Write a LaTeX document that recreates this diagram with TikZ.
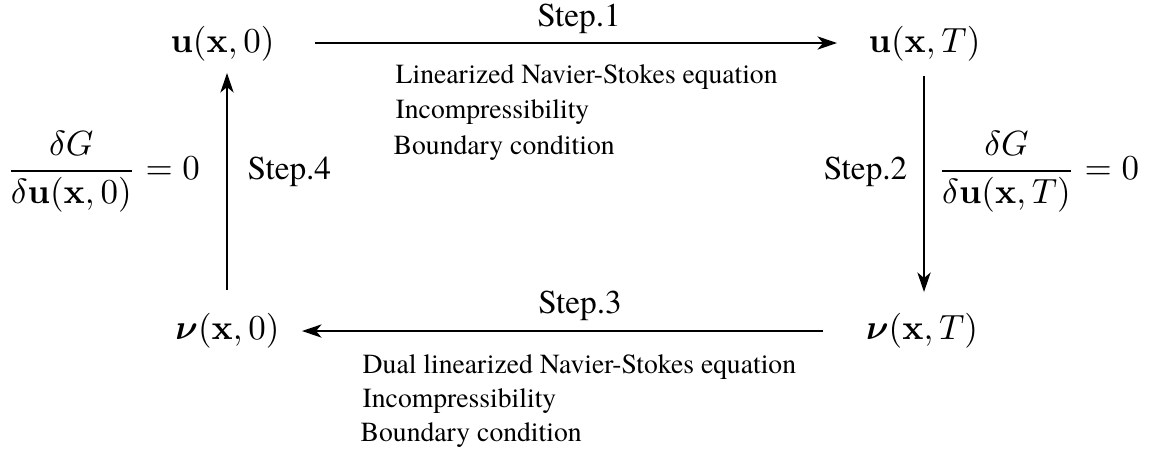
\documentclass[tikz,border=0pt]{standalone}
\usepackage{amsmath}
\usepackage[no-math]{fontspec}
\setmainfont{TeX Gyre Termes}
\usetikzlibrary{arrows.meta}
\tikzset{
  mathnode/.style={inner sep=0pt, outer sep=0pt},
  steplabel/.style={inner sep=0pt, font=\rmfamily\fontsize{9.5}{11}\selectfont},
  smalltext/.style={inner sep=0pt, anchor=base west, font=\rmfamily\fontsize{7.9}{9.5}\selectfont},
  flow/.style={line width=0.45pt, -{Stealth[length=5.6pt,width=3.8pt,inset=1.6pt]}}
}
\begin{document}
\begin{tikzpicture}[x=0.2857pt,y=-0.2857pt]
\useasboundingbox (0,0) rectangle (1163,454);
% main nodes
\node[mathnode] (u0) at (222.5,43.5) {$\mathbf{u}(\mathbf{x},0)$};
\node[mathnode] (uT) at (924.5,43.5) {$\mathbf{u}(\mathbf{x},T)$};
\node[mathnode] (n0) at (227.5,331) {$\boldsymbol{\nu}(\mathbf{x},0)$};
\node[mathnode] (nT) at (922,331) {$\boldsymbol{\nu}(\mathbf{x},T)$};
% connector end points
\coordinate (a1s) at (315,43);
\coordinate (a1e) at (837,43);
\coordinate (a2s) at (924,76);
\coordinate (a2e) at (924,292);
\coordinate (a3s) at (823,331);
\coordinate (a3e) at (302,331);
\coordinate (a4s) at (227,290);
\coordinate (a4e) at (227,73);
\draw[flow] (a1s) -- (a1e);
\draw[flow] (a2s) -- (a2e);
\draw[flow] (a3s) -- (a3e);
\draw[flow] (a4s) -- (a4e);
% step labels
\node[steplabel, anchor=base] (s1) at (579,26) {Step.1};
\node[steplabel, anchor=base] (s3) at (580,313) {Step.3};
\node[steplabel, anchor=west] (s4) at (247,172) {Step.4};
\node[steplabel, anchor=east] (s2) at (908,172) {Step.2};
% fractions
\node[mathnode, anchor=east] (f4) at (200,172) {$\dfrac{\delta G}{\delta \mathbf{u}(\mathbf{x},0)}=0$};
\node[mathnode, anchor=west] (f2) at (938,172) {$\dfrac{\delta G}{\delta \mathbf{u}(\mathbf{x},T)}=0$};
% small texts
\node[smalltext] (t1) at (395,83) {Linearized Navier-Stokes equation};
\node[smalltext] (t2) at (395,118) {Incompressibility};
\node[smalltext] (t3) at (393,154) {Boundary condition};
\node[smalltext] (b1) at (362,373) {Dual linearized Navier-Stokes equation};
\node[smalltext] (b2) at (362,407) {Incompressibility};
\node[smalltext] (b3) at (360,441) {Boundary condition};
\end{tikzpicture}
\end{document}
